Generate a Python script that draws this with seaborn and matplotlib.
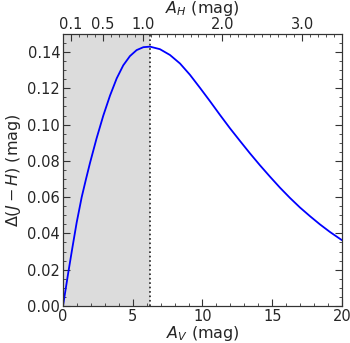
import matplotlib
matplotlib.use("Agg")
import matplotlib.pyplot as plt
from matplotlib.ticker import MultipleLocator, FixedLocator, FormatStrFormatter
import seaborn as sns
import pandas as pd

# courbe
a_v = [0.0, 0.38, 0.67, 0.98, 1.34, 1.65, 1.94, 2.41, 2.89, 3.37, 3.85,
       4.32, 4.80, 5.28, 5.76, 6.24, 6.95, 7.67, 8.39, 9.10, 9.82, 10.54,
       11.25, 11.97, 12.69, 13.40, 14.12, 14.84, 15.56, 16.27, 16.99, 17.71,
       18.42, 19.14, 19.86, 20.0]
delta_jh = [0.0, 0.0185, 0.0320, 0.0460, 0.0600, 0.0700, 0.0790, 0.0925,
            0.1050, 0.1160, 0.1255, 0.1327, 0.1378, 0.1411, 0.1427, 0.1430,
            0.1416, 0.1384, 0.1337, 0.1275, 0.1203, 0.1129, 0.1054, 0.0980,
            0.0910, 0.0842, 0.0776, 0.0713, 0.0652, 0.0596, 0.0543, 0.0495,
            0.0450, 0.0408, 0.0370, 0.0363]

av_peak = 6.24
ah_ratio = 0.175  # A_H / A_V
ah_major = [0.1, 0.5, 1.0, 2.0, 3.0]
ah_labels = ["0.1", "0.5", "1.0", "2.0", "3.0"]

df = pd.DataFrame({"A_V": a_v, "dJH": delta_jh})

sns.set_style("ticks")
plt.rcParams["font.family"] = ["DejaVu Sans"]
plt.rcParams["mathtext.fontset"] = "dejavusans"

fig = plt.figure(figsize=(3.5, 3.43), dpi=100)
ax = fig.add_axes([0.18, 0.108, 0.797, 0.793])

ax.axvspan(0, av_peak, color="#dcdcdc", zorder=0, lw=0)
ax.axvline(av_peak, color="#222222", ls=":", lw=1.2)
sns.lineplot(data=df, x="A_V", y="dJH", color="blue", lw=1.3, ax=ax)

ax.set_xlim(0, 20)
ax.set_ylim(0, 0.15)
ax.xaxis.set_major_locator(MultipleLocator(5))
ax.xaxis.set_minor_locator(MultipleLocator(1))
ax.yaxis.set_major_locator(MultipleLocator(0.02))
ax.yaxis.set_minor_locator(MultipleLocator(0.005))
ax.yaxis.set_major_formatter(FormatStrFormatter("%.2f"))
ax.set_xlabel(r"$A_V$ (mag)", fontsize=11.5, labelpad=0)
ax.set_ylabel(r"$\Delta(J-H)$ (mag)", fontsize=11.5, labelpad=3)
ax.tick_params(which="both", direction="in", top=False, right=True,
               labelsize=10.5, color="#333333")
ax.tick_params(which="major", length=5, pad=2)
ax.tick_params(which="minor", length=2.5)
for s in ax.spines.values():
    s.set_color("#333333")

# axe superieur en A_H
top = ax.twiny()
top.set_xlim(ax.get_xlim())
top.xaxis.set_major_locator(FixedLocator([h / ah_ratio for h in ah_major]))
top.set_xticklabels(ah_labels)
ah_minor = [i / 10 for i in range(1, 35)]
top.xaxis.set_minor_locator(FixedLocator([h / ah_ratio for h in ah_minor]))
top.set_xlabel(r"$A_H$ (mag)", fontsize=11.5, labelpad=3)
top.tick_params(which="both", direction="in", labelsize=10.5, color="#333333")
top.tick_params(which="major", length=5, pad=1.5)
top.tick_params(which="minor", length=2.5)
for s in top.spines.values():
    s.set_color("#333333")

fig.savefig("out.png", dpi=100)
